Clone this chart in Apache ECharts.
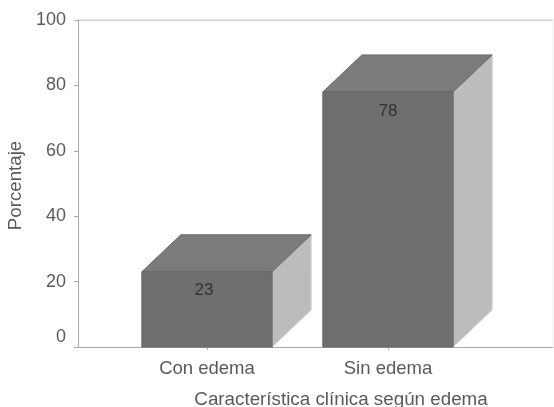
<!DOCTYPE html>
<html>
<head>
<meta charset="utf-8">
<style>html,body{margin:0;padding:0;background:#fff}#chart{width:554px;height:407px}</style>
<script src="https://cdn.jsdelivr.net/npm/echarts@6/dist/echarts.min.js"></script>
</head>
<body>
<div id="chart"></div>
<script>
const categories = ['Con edema', 'Sin edema'];
const percentages = [23, 78];
const yTicks = { min: 0, max: 100, step: 20 };
const yName = 'Porcentaje';
const xName = 'Característica clínica según edema';

const FONT = '"Liberation Sans", Arial, sans-serif';
const TEXT = '#5a5a5a';
const AXIS = '#a8a8a8';
const DEPTH_X = 39, DEPTH_Y = 37;

// Extruded column: front face, top face and right side, with the value on the front.
function renderBlock(params, api) {
  const value = api.value(1);
  const base = api.coord([api.value(0), 0]);
  const top = api.coord([api.value(0), value]);
  const half = api.size([1, 0])[0] * 0.36;
  const l = base[0] - half, r = base[0] + half, yb = base[1], yt = top[1];
  const poly = (points, fill, stroke) => ({
    type: 'polygon',
    shape: { points },
    style: { fill, stroke: stroke || fill, lineWidth: 1 }
  });
  return {
    type: 'group',
    children: [
      poly([[r, yb], [r + DEPTH_X, yb - DEPTH_Y], [r + DEPTH_X, yt - DEPTH_Y], [r, yt]], '#bcbcbc', '#d4d4d4'),
      poly([[l, yt], [l + DEPTH_X, yt - DEPTH_Y], [r + DEPTH_X, yt - DEPTH_Y], [r, yt]], '#7b7b7b', '#6a6a6a'),
      poly([[l, yb], [l, yt], [r, yt], [r, yb]], '#6f6f6f', '#666666'),
      {
        type: 'text',
        style: {
          x: base[0] - (params.dataIndex === 0 ? 3 : 0),
          y: yt + 19,
          text: String(value),
          fill: '#333333',
          font: '17px ' + FONT,
          align: 'center',
          verticalAlign: 'middle'
        }
      }
    ]
  };
}

const chart = echarts.init(document.getElementById('chart'), null, { renderer: 'canvas' });
chart.setOption({
  animation: false,
  backgroundColor: '#ffffff',
  grid: [
    { left: 78, right: 1, top: 20, bottom: 60, outerBoundsMode: 'none' },
    { left: 116.5, width: 362, top: 20, bottom: 60, outerBoundsMode: 'none' }
  ],
  xAxis: [
    {
      gridIndex: 0, type: 'value', min: 0, max: 1,
      axisLabel: { show: false }, axisTick: { show: false }, splitLine: { show: false },
      axisLine: { show: true, onZero: false, lineStyle: { color: AXIS, width: 1 } }
    },
    {
      gridIndex: 1, type: 'category', data: categories,
      axisLine: { show: false },
      axisTick: { show: true, alignWithLabel: true, length: 3, lineStyle: { color: AXIS } },
      axisLabel: { color: TEXT, fontFamily: FONT, fontSize: 18.5, margin: 12 },
      name: xName, nameLocation: 'middle', nameGap: 43,
      nameTextStyle: { color: TEXT, fontFamily: FONT, fontSize: 18.8, padding: [0, 0, 0, 87] }
    }
  ],
  yAxis: [
    {
      gridIndex: 0, type: 'value', min: yTicks.min, max: yTicks.max, interval: yTicks.step,
      axisLine: { show: true, lineStyle: { color: AXIS, width: 1 } },
      axisTick: { show: true, length: 4, lineStyle: { color: AXIS } },
      axisLabel: {
        color: TEXT, fontFamily: FONT, fontSize: 18, margin: 12,
        // The baseline label sits a little above its tick, clear of the axis line.
        formatter: (v) => (v === yTicks.min ? '{raised|' + v + '}' : String(v)),
        rich: { raised: { color: TEXT, fontFamily: FONT, fontSize: 18, padding: [0, 0, 20, 0] } }
      },
      splitLine: { show: false },
      name: yName, nameLocation: 'middle', nameGap: 51,
      nameTextStyle: { color: TEXT, fontFamily: FONT, fontSize: 18.7, padding: [0, 4, 0, 0] }
    },
    {
      gridIndex: 1, type: 'value', min: yTicks.min, max: yTicks.max, interval: yTicks.step,
      show: false
    }
  ],
  series: [
    {
      type: 'custom',
      xAxisIndex: 1,
      yAxisIndex: 1,
      renderItem: renderBlock,
      encode: { x: 0, y: 1 },
      data: categories.map((name, i) => [i, percentages[i]]),
      z: 3
    },
    {
      // Frame along the 100 line.
      type: 'line',
      xAxisIndex: 0,
      yAxisIndex: 0,
      symbol: 'none',
      silent: true,
      lineStyle: { color: AXIS, width: 1 },
      data: [[0, yTicks.max], [1, yTicks.max]],
      z: 1
    },
    {
      // Faint right edge of the plot.
      type: 'line',
      xAxisIndex: 0,
      yAxisIndex: 0,
      symbol: 'none',
      silent: true,
      lineStyle: { color: '#eeeeee', width: 1 },
      data: [[1, yTicks.min], [1, yTicks.max]],
      z: 1
    }
  ]
});
</script>
</body>
</html>
